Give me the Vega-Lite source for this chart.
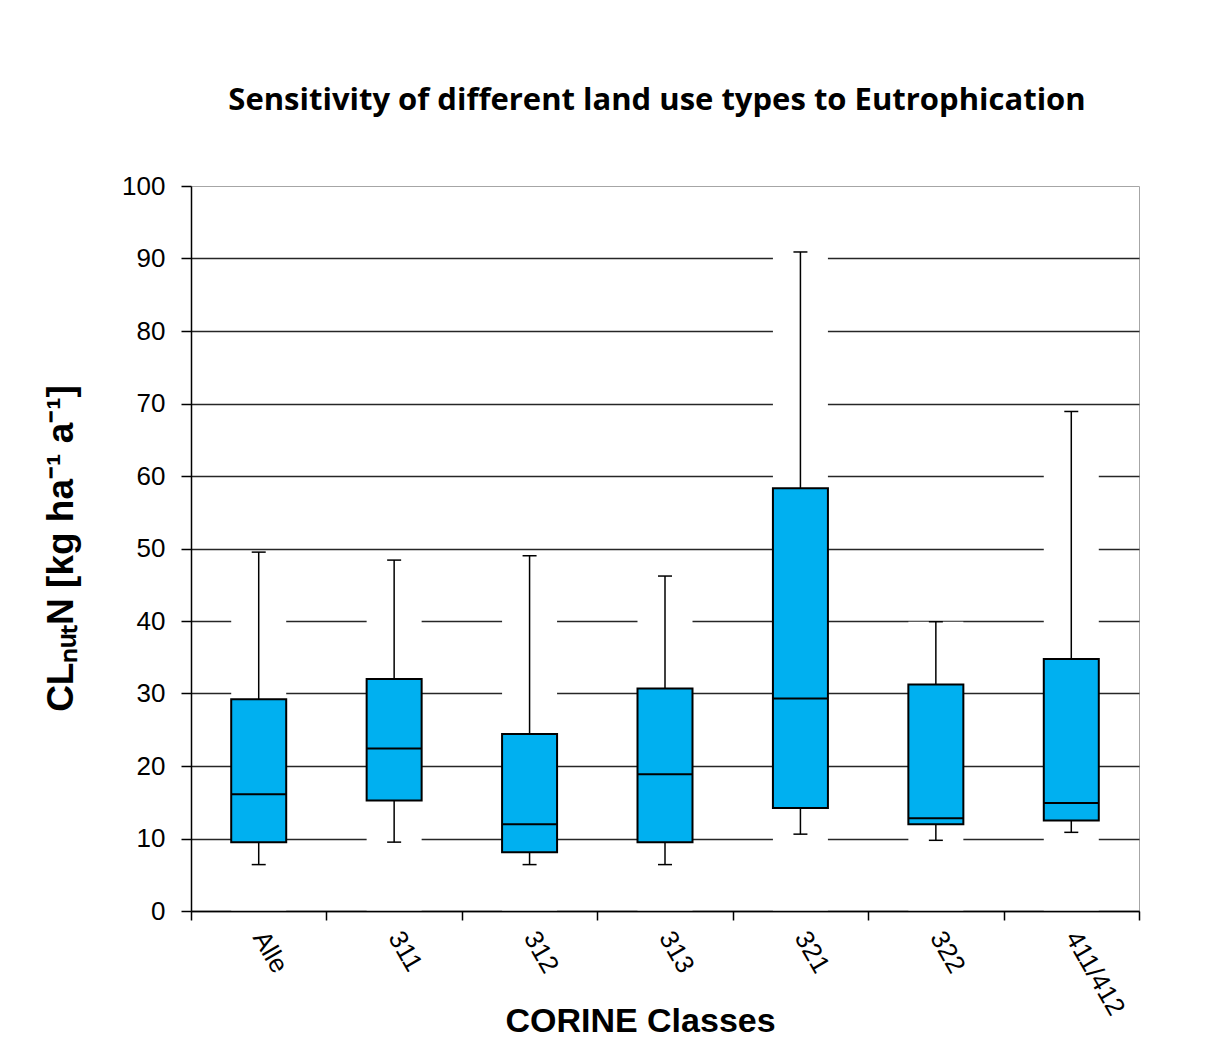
{
  "$schema": "https://vega.github.io/schema/vega-lite/v6.json",
  "width": 948,
  "height": 725,
  "autosize": {"type": "none"},
  "padding": {"left": 191, "top": 186, "right": 71, "bottom": 151},
  "background": "white",
  "title": {
    "text": "Sensitivity of different land use types to Eutrophication",
    "font": "Open Sans",
    "fontSize": 31,
    "fontWeight": "bold",
    "color": "#000",
    "anchor": "middle",
    "dx": -8,
    "offset": 56
  },
  "data": {
    "values": [
      {"cls": "Alle", "min": 6.4, "q1": 9.5, "median": 16.1, "q3": 29.2, "max": 49.5},
      {"cls": "311", "min": 9.5, "q1": 15.25, "median": 22.4, "q3": 32.0, "max": 48.4},
      {"cls": "312", "min": 6.4, "q1": 8.1, "median": 11.95, "q3": 24.4, "max": 49.0},
      {"cls": "313", "min": 6.4, "q1": 9.5, "median": 18.85, "q3": 30.7, "max": 46.2},
      {"cls": "321", "min": 10.6, "q1": 14.2, "median": 29.3, "q3": 58.3, "max": 90.9},
      {"cls": "322", "min": 9.75, "q1": 11.95, "median": 12.8, "q3": 31.25, "max": 39.9},
      {"cls": "411/412", "min": 10.85, "q1": 12.5, "median": 14.9, "q3": 34.75, "max": 68.9}
    ]
  },
  "encoding": {
    "x": {
      "field": "cls",
      "type": "nominal",
      "sort": null,
      "scale": {"domain": ["Alle", "311", "312", "313", "321", "322", "411/412"], "paddingInner": 0, "paddingOuter": 0},
      "axis": {
        "tickBand": "extent",
        "labelAngle": 60,
        "labelAlign": "left",
        "labelBaseline": "middle",
        "labelFont": "Liberation Sans",
        "labelFontSize": 26,
        "labelColor": "#000",
        "labelPadding": 13,
        "tickSize": 9,
        "tickColor": "#000",
        "tickWidth": 1.5,
        "domainColor": "#000",
        "domainWidth": 1.5,
        "grid": false,
        "title": "CORINE Classes",
        "titleFont": "Liberation Sans",
        "titleFontSize": 34,
        "titleFontWeight": "bold",
        "titleColor": "#000",
        "titleX": 449,
        "titleY": 120,
        "titleAlign": "center",
        "titleBaseline": "alphabetic",
        "zindex": 1
      }
    }
  },
  "layer": [
    {
      "mark": {"type": "bar", "fill": "white", "size": 55},
      "encoding": {
        "y": {
          "field": "max",
          "type": "quantitative",
          "scale": {"domain": [0, 100], "nice": false},
          "axis": {
            "values": [0, 10, 20, 30, 40, 50, 60, 70, 80, 90, 100],
            "title": "CLₙᵤₜN [kg ha⁻¹ a⁻¹]",
            "titleFont": "Liberation Sans",
            "titleFontSize": 37,
            "titleFontWeight": "bold",
            "titleColor": "#000",
            "titleX": -119,
            "titleY": 362,
            "titleAlign": "center",
            "titleBaseline": "alphabetic",
            "labelFont": "Liberation Sans",
            "labelFontSize": 26,
            "labelColor": "#000",
            "labelPadding": 16,
            "tickSize": 10,
            "tickColor": "#000",
            "tickWidth": 1.5,
            "domainColor": "#000",
            "domainWidth": 1.5,
            "grid": true,
            "gridColor": "#262626",
            "gridWidth": 1.5,
            "gridOpacity": {"condition": {"test": "datum.value >= 100", "value": 0}, "value": 1},
            "zindex": 0
          }
        }
      }
    },
    {
      "mark": {"type": "rule", "color": "#000", "strokeWidth": 1.5},
      "encoding": {
        "y": {"field": "min", "type": "quantitative"},
        "y2": {"field": "max"}
      }
    },
    {
      "mark": {"type": "tick", "color": "#000", "size": 14, "thickness": 1.5, "opacity": 1},
      "encoding": {"y": {"field": "min", "type": "quantitative"}}
    },
    {
      "mark": {"type": "tick", "color": "#000", "size": 14, "thickness": 1.5, "opacity": 1},
      "encoding": {"y": {"field": "max", "type": "quantitative"}}
    },
    {
      "mark": {"type": "bar", "fill": "#00B0F0", "stroke": "#000", "strokeWidth": 2, "size": 55},
      "encoding": {
        "y": {"field": "q1", "type": "quantitative"},
        "y2": {"field": "q3"}
      }
    },
    {
      "mark": {"type": "tick", "color": "#000", "size": 55, "thickness": 2, "opacity": 1},
      "encoding": {"y": {"field": "median", "type": "quantitative"}}
    }
  ],
  "config": {"view": {"stroke": "#a6a6a6", "strokeWidth": 1}}
}
